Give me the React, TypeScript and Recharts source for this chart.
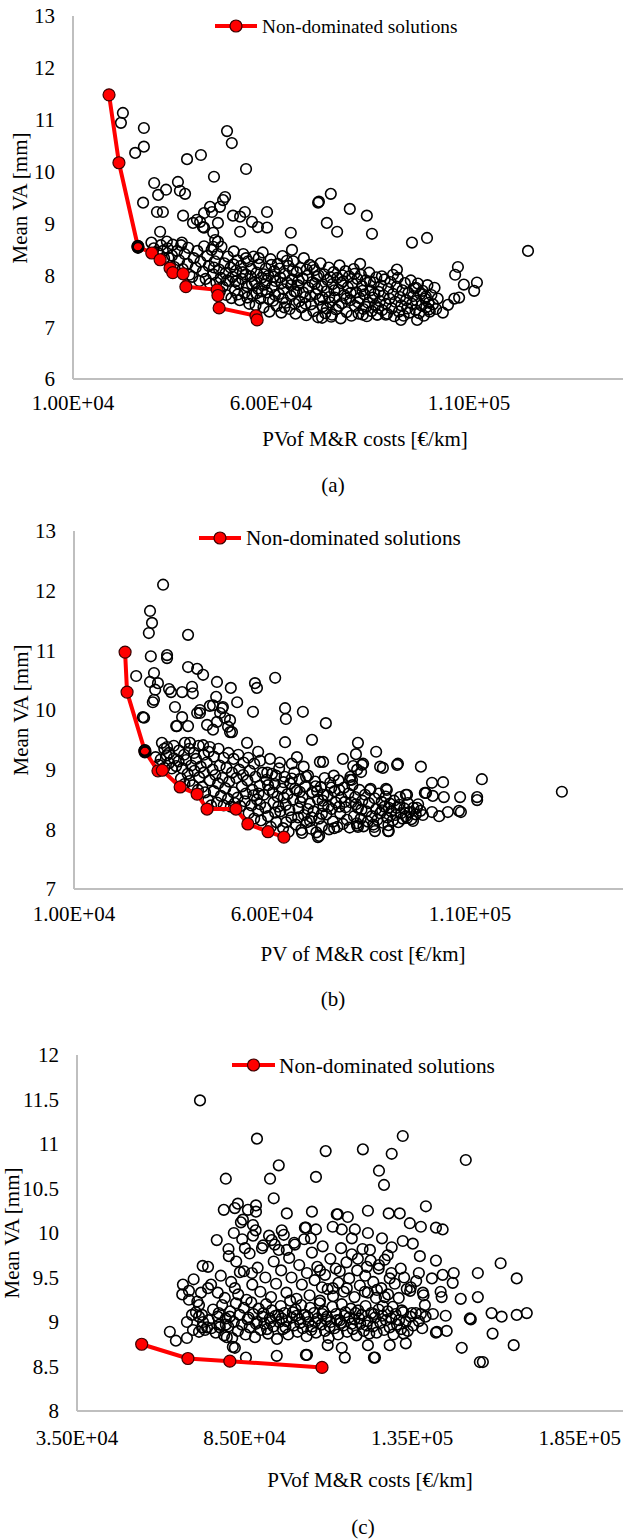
import { ScatterChart, Scatter, XAxis, YAxis } from "recharts";

const SERIF = '"Liberation Serif", "Times New Roman", serif';
const AXIS_GREY = "#bfbfbf";

type Row = [number, number];

// ---- panel (a) ----
const A_X_TICKS = [10000, 60000, 110000];
const A_Y_TICKS = [6, 7, 8, 9, 10, 11, 12, 13];

const A_FRONT: Row[] = [
  [19100, 11.48], [21600, 10.17], [26400, 8.55], [29900, 8.43], [32000, 8.3],
  [34500, 8.14], [35200, 8.05], [37800, 8.03], [38500, 7.78], [46400, 7.72],
  [46600, 7.61], [46900, 7.37], [56200, 7.22], [56500, 7.14],
];

const A_KNOT: Row[] = [[26300, 8.56], [26500, 8.54], [26400, 8.57], [26400, 8.53]];

const A_UPPER: Row[] = [
  [22600, 11.13], [22100, 10.94], [27900, 10.84], [27900, 10.48], [25700, 10.36],
  [48900, 10.78], [50100, 10.55], [42300, 10.32], [38800, 10.24], [53700, 10.05],
  [45600, 9.9], [30500, 9.78], [36500, 9.8], [33500, 9.65], [37000, 9.63],
  [38300, 9.57], [31500, 9.55], [48400, 9.51], [27700, 9.4], [71900, 9.4],
  [44600, 9.32], [47100, 9.32], [31200, 9.22], [32700, 9.22], [37800, 9.15],
  [43100, 9.2], [45100, 9.22], [50400, 9.15], [52200, 9.13], [53400, 9.22],
  [59000, 9.22], [40300, 9.01], [42100, 9.03], [46600, 9.01], [55200, 9.03],
  [56700, 8.93], [59000, 8.92], [43100, 8.92], [32000, 8.84], [52200, 8.84],
  [45400, 8.82], [65000, 8.82], [65300, 8.49], [46600, 8.65], [33700, 8.65],
  [35200, 8.59], [37500, 8.63], [42800, 8.93], [45900, 8.68], [41300, 9.07],
  [47900, 9.45], [45400, 8.55],
];

const A_RIGHT: Row[] = [
  [75100, 9.57], [72100, 9.42], [79900, 9.28], [84200, 9.15], [74100, 9.01],
  [76700, 8.84], [85500, 8.8], [95600, 8.63], [99400, 8.72], [124900, 8.47],
  [107200, 8.16], [106500, 8.01], [108700, 7.82], [112000, 7.86], [111300, 7.7],
  [107500, 7.57], [106300, 7.55], [104700, 7.43], [103400, 7.28], [99900, 7.34],
  [99100, 7.59], [96900, 7.14], [92800, 7.14], [96600, 7.76], [91800, 8.11],
  [90800, 8.01], [82500, 8.22], [89000, 7.24], [86800, 7.24], [72900, 7.18],
  [75400, 7.24], [83200, 7.24],
];

const A_CLOUD: Row[] = [
  [30400, 8.52], [31300, 8.44], [29800, 8.63], [32200, 8.58], [33000, 8.33], [32700, 8.47],
  [34100, 8.34], [33900, 8.52], [35000, 8.38], [35600, 8.16], [36300, 8.47], [36800, 8.29],
  [37300, 8.58], [37700, 8.12], [38200, 8.41], [38900, 8.22], [39400, 8.01], [39100, 8.53],
  [40100, 7.97], [40500, 8.33], [41000, 8.15], [41400, 8.47], [41900, 7.89], [42200, 8.26],
  [42800, 8.07], [43100, 8.56], [43500, 7.93], [43900, 8.37], [44300, 8.18], [44600, 7.84],
  [45000, 8.49], [45400, 8.02], [45800, 8.27], [46200, 7.86], [46500, 8.41], [46900, 8.11],
  [47300, 7.95], [47500, 8.55], [47800, 7.78], [48200, 8.23], [48500, 8.04], [48700, 7.62],
  [49100, 8.36], [49400, 7.89], [49800, 8.15], [50000, 7.56], [50300, 7.97], [50600, 8.46],
  [50900, 7.71], [51200, 8.09], [51500, 8.29], [51800, 7.84], [52100, 7.52], [52400, 8.18],
  [52700, 7.93], [53000, 8.41], [53300, 7.66], [53600, 8.02], [53900, 7.79], [54200, 8.27],
  [54500, 7.45], [54800, 7.98], [55000, 8.12], [55300, 7.61], [55600, 8.36], [55900, 7.87],
  [56100, 7.42], [56400, 8.05], [56700, 7.74], [57000, 8.21], [57300, 7.55], [57600, 7.95],
  [57900, 8.44], [58100, 7.38], [58400, 7.82], [58700, 8.13], [59000, 7.67], [59300, 7.99],
  [59600, 7.3], [59900, 8.31], [60200, 7.77], [60500, 7.51], [60800, 8.08], [61100, 7.89],
  [61400, 7.41], [61700, 8.22], [62000, 7.64], [62300, 7.96], [62600, 7.28], [62900, 8.37],
  [63200, 7.73], [63500, 8.03], [63800, 7.47], [64100, 7.86], [64400, 8.18], [64700, 7.35],
  [65000, 7.6], [65300, 7.92], [65600, 8.27], [65900, 7.69], [66200, 7.26], [66500, 8.06],
  [66800, 7.81], [67100, 7.5], [67400, 8.14], [67700, 7.38], [68000, 7.94], [68300, 8.33],
  [68600, 7.58], [68900, 7.23], [69200, 7.99], [69500, 7.76], [69800, 8.2], [70100, 7.44],
  [70400, 7.87], [70700, 7.31], [71000, 8.1], [71300, 7.64], [71600, 7.97], [71900, 7.19],
  [72200, 7.53], [72500, 8.23], [72800, 7.79], [73100, 7.4], [73400, 8.02], [73700, 7.27],
  [74000, 7.69], [74300, 7.91], [74600, 8.15], [74900, 7.48], [75200, 7.2], [75500, 7.83],
  [75800, 8.06], [76100, 7.57], [76400, 7.34], [76700, 7.95], [77000, 7.72], [77300, 8.19],
  [77600, 7.17], [77900, 7.46], [78200, 7.88], [78500, 7.62], [78800, 8.08], [79100, 7.29],
  [79400, 7.77], [79700, 7.98], [80000, 7.52], [80300, 7.22], [80600, 7.84], [80900, 8.12],
  [81200, 7.41], [81500, 7.67], [81800, 7.93], [82100, 7.26], [82400, 7.56], [82700, 8.01],
  [83000, 7.79], [83300, 7.35], [83600, 7.63], [83900, 7.9], [84200, 7.21], [84500, 7.47],
  [84800, 8.05], [85100, 7.71], [85400, 7.31], [85700, 7.57], [86000, 7.86], [86300, 7.42],
  [86600, 7.96], [86900, 7.24], [87200, 7.68], [87500, 7.5], [87800, 7.8], [88100, 7.33],
  [88400, 7.61], [88700, 7.92], [89000, 7.45], [89300, 7.26], [89600, 7.74], [89900, 7.55],
  [90200, 7.87], [90500, 7.36], [90800, 7.64], [91100, 7.21], [91400, 7.49], [91700, 7.78],
  [92000, 7.95], [92300, 7.3], [92600, 7.58], [92900, 7.42], [93200, 7.71], [93500, 7.22],
  [93800, 7.85], [94100, 7.52], [94400, 7.36], [94700, 7.66], [95000, 7.28], [95300, 7.9],
  [95600, 7.45], [95900, 7.6], [96200, 7.75], [96500, 7.33], [96800, 7.51], [97100, 7.84],
  [97400, 7.27], [97700, 7.64], [98000, 7.42], [98300, 7.7], [98600, 7.22], [98900, 7.55],
  [99200, 7.38], [99500, 7.81], [99800, 7.47], [100100, 7.3], [100500, 7.62], [100900, 7.44],
  [101300, 7.76], [101700, 7.35], [102100, 7.55],
];

const A_CORE: Row[] = [
  [45600, 8.15], [47100, 7.69], [48900, 7.9], [50500, 8.21], [51600, 7.63], [52900, 8.06],
  [54000, 7.57], [55200, 7.83], [56900, 8.33], [57700, 7.69], [58900, 7.9], [60100, 8.2],
  [61000, 7.62], [62200, 8.13], [63000, 7.55], [64000, 8.28], [65100, 7.81], [66000, 7.45],
  [67000, 7.9], [68100, 7.67], [69000, 8.11], [70000, 7.6], [71100, 7.84], [72000, 8.0],
  [73000, 7.57], [74100, 7.36], [75000, 7.96], [76000, 7.71], [77100, 7.41], [78000, 8.0],
  [79000, 7.55], [80100, 7.66], [81100, 8.03], [82000, 7.48], [83100, 7.7], [84000, 7.39],
  [85000, 7.88], [86100, 7.64], [87100, 7.37], [88000, 7.98], [51000, 7.88], [53700, 8.33],
  [56300, 7.65], [59500, 7.54], [62700, 7.85], [65500, 8.1], [68700, 7.45], [71700, 7.74],
  [74700, 7.58], [77700, 7.85], [60700, 7.97], [66400, 7.68], [70600, 8.16], [63400, 7.38],
  [58200, 8.02],
];

// ---- panel (b) ----
const B_X_TICKS = [10000, 60000, 110000];
const B_Y_TICKS = [7, 8, 9, 10, 11, 12, 13];

const B_FRONT: Row[] = [
  [22900, 10.97], [23400, 10.3], [27900, 9.31], [31200, 8.98], [32300, 8.99],
  [36800, 8.71], [41100, 8.59], [43600, 8.34], [50900, 8.34], [53900, 8.09],
  [59000, 7.96], [63000, 7.87],
];

const B_KNOT: Row[] = [[27800, 9.32], [28000, 9.3], [27900, 9.33], [27900, 9.29]];

const B_UPPER: Row[] = [
  [32500, 12.1], [29200, 11.66], [29700, 11.46], [28900, 11.29], [38800, 11.26],
  [29400, 10.9], [33500, 10.92], [33500, 10.87], [38800, 10.72], [41100, 10.69],
  [42600, 10.59], [25700, 10.57], [30200, 10.62], [29200, 10.47], [31200, 10.45],
  [46100, 10.47], [55700, 10.45], [56200, 10.37], [60800, 10.54], [30500, 10.34],
  [34000, 10.35], [34500, 10.3], [37300, 10.3], [39800, 10.39], [40000, 10.28],
  [49600, 10.37], [30200, 10.17], [35500, 10.05], [45900, 10.22], [51200, 10.13],
  [41800, 10.0], [47600, 10.05], [63300, 10.03], [67800, 9.97], [55200, 9.97],
  [27700, 9.87], [37300, 9.88], [36000, 9.73], [38800, 9.73], [41800, 9.95],
  [45100, 10.08], [47400, 10.03], [49400, 9.83], [63500, 9.85], [43600, 9.75],
  [45100, 9.67], [49400, 9.63], [46100, 9.8], [63300, 9.46], [70100, 9.5],
  [42600, 9.41], [44300, 9.38], [53700, 9.45], [56500, 9.3], [38000, 9.45],
  [39300, 9.45], [32200, 9.45], [33500, 9.38], [66300, 9.21], [72100, 9.13],
  [29900, 10.13], [44300, 10.07], [27400, 9.88], [41100, 9.95], [46900, 9.95],
  [48100, 9.87], [73600, 9.78], [35800, 9.73], [48900, 9.72], [49900, 9.63],
  [32800, 9.35], [34000, 9.28], [35200, 9.4], [36500, 9.32], [37800, 9.25],
  [39100, 9.35], [40300, 9.28], [41500, 9.4], [42800, 9.25], [44000, 9.3],
  [45300, 9.22], [46500, 9.35], [47800, 9.2], [49000, 9.28], [50300, 9.18],
  [51500, 9.25], [52800, 9.12], [54000, 9.2], [55500, 9.1], [57000, 9.15],
  [59500, 9.18], [62000, 9.12], [65000, 9.1], [68000, 9.05],
];

const B_RIGHT: Row[] = [
  [81700, 9.45], [86300, 9.3], [81200, 9.26], [77900, 9.18], [72900, 9.13],
  [83000, 9.1], [87300, 9.05], [88000, 9.03], [91800, 9.1], [97600, 9.05],
  [100400, 8.78], [98900, 8.61], [93800, 8.58], [88800, 8.68], [84700, 8.66],
  [81500, 9.0], [80200, 8.83], [86000, 7.97], [89500, 7.97], [81700, 8.04],
  [75700, 8.02], [71600, 7.87], [67600, 7.94], [80500, 9.06], [82700, 9.08],
  [82500, 8.96], [91600, 9.08], [103200, 8.79], [113000, 8.84], [111800, 8.54],
  [111800, 8.49], [107500, 8.54], [103400, 8.54], [100600, 8.56], [98600, 8.61],
  [133200, 8.63], [107700, 8.29], [107200, 8.31], [104400, 8.29], [102200, 8.22],
  [100400, 8.29], [98100, 8.24], [95600, 8.14], [94100, 8.19], [96600, 8.36],
  [92300, 8.54], [94100, 8.58], [89300, 7.97], [85800, 8.04], [81500, 8.06],
  [71900, 7.89], [89500, 8.36], [89000, 8.66], [79700, 8.83], [87800, 8.32],
];

const B_CLOUD: Row[] = [
  [30600, 9.21], [31400, 9.08], [31900, 9.17], [32800, 9.03], [33400, 9.24], [34000, 9.11],
  [34700, 9.02], [35200, 9.19], [35800, 9.06], [36400, 9.14], [37000, 8.85], [37400, 9.02],
  [37900, 8.76], [38300, 9.16], [38700, 8.93], [39200, 8.81], [39600, 9.07], [40000, 8.74],
  [40400, 8.98], [40800, 9.18], [41300, 8.66], [41600, 8.87], [42000, 9.05], [42400, 8.71],
  [42800, 8.95], [43100, 8.62], [43500, 9.12], [43900, 8.49], [44300, 8.82], [44600, 8.4],
  [45000, 9.0], [45300, 8.64], [45700, 8.91], [46100, 8.45], [46400, 8.77], [46800, 9.07],
  [47100, 8.56], [47500, 8.86], [47800, 8.4], [48200, 8.69], [48500, 9.03], [48900, 8.51],
  [49200, 8.8], [49600, 8.38], [49900, 8.95], [50300, 8.62], [50600, 8.44], [51000, 8.86],
  [51300, 8.53], [51700, 9.0], [52000, 8.39], [52400, 8.72], [52700, 8.91], [53100, 8.47],
  [53400, 8.6], [53800, 8.82], [54100, 8.27], [54400, 8.98], [54800, 8.4], [55100, 8.66],
  [55500, 8.18], [55800, 8.88], [56200, 8.5], [56500, 8.31], [56900, 8.73], [57200, 8.15],
  [57600, 8.95], [57900, 8.58], [58300, 8.36], [58600, 8.83], [59000, 8.22], [59300, 8.66],
  [59700, 8.04], [60000, 8.93], [60400, 8.45], [60700, 8.76], [61100, 8.12], [61400, 8.55],
  [61800, 9.02], [62100, 8.3], [62500, 8.68], [62800, 8.02], [63200, 8.88], [63500, 8.41],
  [63900, 8.59], [64200, 7.96], [64600, 8.77], [64900, 8.2], [65300, 8.5], [65600, 8.95],
  [66000, 8.08], [66300, 8.65], [66700, 8.35], [67000, 8.84], [67400, 7.99], [67700, 8.54],
  [68100, 8.24], [68400, 8.72], [68800, 8.12], [69100, 8.9], [69500, 8.43], [69800, 8.01],
  [70200, 8.62], [70500, 8.3], [70900, 8.8], [71200, 7.95], [71600, 8.5], [71900, 8.18],
  [72300, 8.71], [72600, 8.05], [73000, 8.39], [73300, 8.86], [73700, 8.25], [74000, 8.57],
  [74400, 8.0], [74700, 8.78], [75100, 8.34], [75400, 8.13], [75800, 8.64], [76100, 8.45],
  [76500, 8.04], [76800, 8.82], [77200, 8.27], [77500, 8.53], [77900, 8.09], [78200, 8.7],
  [78600, 8.37], [78900, 8.16], [79300, 8.6], [79600, 8.03], [80000, 8.45], [80300, 8.74],
  [80700, 8.22], [81000, 8.54], [81400, 8.1], [81700, 8.36], [82100, 8.66], [82400, 8.18],
  [82800, 8.48], [83100, 8.05], [83500, 8.58], [83800, 8.3], [84200, 8.13], [84500, 8.44],
  [84900, 8.68], [85200, 8.22], [85600, 8.08], [85900, 8.52], [86300, 8.34], [86600, 8.16],
  [87000, 8.6], [87300, 8.27], [87700, 8.46], [88000, 8.11], [88400, 8.38], [88700, 8.55],
  [89100, 8.2], [89400, 8.07], [89800, 8.43], [90100, 8.3], [90500, 8.15], [90800, 8.48],
  [91200, 8.24], [91500, 8.36], [91900, 8.12], [92200, 8.41], [92600, 8.27], [93000, 8.18],
  [93400, 8.35], [93800, 8.22], [94300, 8.44], [94700, 8.29], [95200, 8.17], [95700, 8.36],
  [96300, 8.25], [96900, 8.42], [97500, 8.31],
];

const B_CORE: Row[] = [
  [55300, 8.57], [57000, 8.42], [58800, 8.95], [60200, 8.62], [61600, 8.38], [62900, 8.79],
  [64400, 8.32], [65800, 8.68], [67200, 8.46], [68600, 8.88], [70000, 8.2], [71400, 8.64],
  [72800, 8.48], [74200, 8.38], [75600, 8.9], [77000, 8.66], [78400, 8.46], [79800, 8.88],
  [81200, 8.42], [82600, 8.33], [59000, 8.74], [61000, 8.9], [63000, 8.53], [65000, 8.85],
  [67000, 8.63], [69000, 8.34], [71000, 8.72], [73000, 8.58], [75000, 8.7], [77000, 8.38],
  [63600, 8.12], [66600, 8.2], [69600, 8.14], [72600, 8.26], [56600, 8.6], [60800, 8.28],
];

// ---- panel (c) ----
const C_X_TICKS = [35000, 85000, 135000, 185000];
const C_Y_TICKS = [8, 8.5, 9, 9.5, 10, 10.5, 11, 11.5, 12];

const C_FRONT: Row[] = [[54300, 8.75], [68100, 8.59], [80600, 8.56], [108100, 8.49]];

const C_UPPER: Row[] = [
  [71700, 11.49], [88700, 11.06], [95200, 10.76], [79400, 10.61], [92600, 10.61],
  [93700, 10.39], [106300, 10.63], [78800, 10.26], [82100, 10.28], [83000, 10.33],
  [86000, 10.26], [88400, 10.31], [88400, 10.24], [84500, 10.15], [83900, 10.12],
  [97600, 10.22], [105100, 10.24], [87500, 10.09], [132200, 11.09], [109200, 10.92],
  [120300, 10.94], [128900, 10.89], [151000, 10.82], [125100, 10.7], [126600, 10.54],
  [139100, 10.3], [112800, 10.21], [115800, 10.18], [121800, 10.25], [128000, 10.22],
  [131300, 10.22], [134300, 10.11], [137600, 10.07], [142100, 10.06], [144100, 10.04],
  [103300, 10.06], [106300, 10.04], [111300, 10.07], [114000, 10.04], [117900, 10.04],
  [121800, 10.0], [126000, 9.94], [104800, 9.94], [117000, 9.94], [132200, 9.91],
  [135200, 9.88], [128900, 9.84], [127700, 9.75], [122400, 9.81], [137300, 9.74],
  [142100, 9.69], [161400, 9.66], [166200, 9.49], [154600, 9.55], [147400, 9.55],
  [144100, 9.53], [140900, 9.49], [137000, 9.55], [131600, 9.6], [125100, 9.64],
  [118800, 9.71], [121500, 9.62], [113400, 9.57], [107500, 9.58], [128300, 9.49],
  [133400, 9.37], [134600, 9.39], [138200, 9.33], [143800, 9.28], [147100, 9.44],
  [149500, 9.26], [154600, 9.28], [143500, 9.34], [138800, 9.19], [126800, 9.28],
  [124500, 9.36], [120900, 9.34], [115500, 9.38], [111300, 9.38], [108100, 9.39],
];

const C_SIDES: Row[] = [
  [158700, 9.1], [161700, 9.06], [166200, 9.08], [169200, 9.1], [152500, 9.03],
  [145000, 9.07], [141200, 9.09], [137600, 9.09], [134900, 9.1], [131900, 9.13],
  [129200, 9.17], [126200, 9.18], [142400, 8.89], [145300, 8.9], [159000, 8.87],
  [165300, 8.74], [149800, 8.71], [156100, 8.55], [133100, 8.76], [128300, 8.74],
  [132500, 8.87], [123900, 8.6], [114900, 8.6], [103300, 8.63], [121800, 8.74],
  [114000, 8.71], [109800, 8.74], [76700, 9.92], [81800, 10.0], [80300, 9.74],
  [74100, 9.62], [66600, 9.42], [68400, 9.35], [72000, 9.33], [75000, 9.42],
  [77000, 9.33], [62700, 8.89], [64500, 8.79], [67800, 8.82], [67800, 9.0],
  [68400, 9.25], [71400, 9.19], [70500, 9.11], [72300, 9.08], [72600, 9.0],
  [73200, 8.91], [69600, 8.91], [73800, 8.94], [71400, 8.89], [82100, 8.71],
  [85400, 8.6], [94600, 8.62], [103600, 8.63], [123600, 8.6], [79700, 8.83],
  [79400, 8.97], [77300, 9.1], [80600, 9.06], [82100, 9.38], [83600, 9.56],
  [87200, 9.55], [85100, 9.83], [90200, 9.83], [87500, 9.97], [93100, 9.92],
  [96100, 10.03], [94000, 9.87], [97600, 9.81], [100000, 9.87], [103000, 10.06],
  [112500, 10.21], [152200, 9.04], [155200, 8.55], [142100, 8.88], [81500, 8.72],
  [77600, 8.94], [69300, 9.08], [72300, 8.94], [71400, 9.06],
];

const C_BAND: Row[] = [
  [74300, 9.02], [75100, 8.93], [75600, 9.14], [76400, 8.88], [77000, 9.06], [77500, 8.97],
  [78300, 9.19], [78900, 8.85], [79400, 9.04], [80100, 8.95], [80700, 9.12], [81300, 8.82],
  [81800, 9.0], [82400, 9.21], [83000, 8.9], [83500, 9.08], [84200, 8.97], [84800, 9.16],
  [85300, 8.86], [85900, 9.03], [86500, 8.94], [87000, 9.22], [87600, 9.09], [88100, 8.83],
  [88700, 9.0], [89200, 9.15], [89800, 8.91], [90300, 9.06], [90900, 8.98], [91400, 9.2],
  [92000, 8.87], [92500, 9.04], [93100, 9.13], [93600, 8.95], [94200, 9.07], [94700, 8.81],
  [95300, 9.0], [95800, 9.18], [96400, 8.92], [96900, 9.1], [97500, 9.01], [98000, 8.86],
  [98600, 9.24], [99100, 9.05], [99700, 8.96], [100200, 9.14], [100800, 8.89], [101300, 9.03],
  [101900, 9.19], [102400, 8.93], [103000, 9.08], [103500, 8.84], [104100, 9.0], [104600, 9.16],
  [105200, 8.95], [105700, 9.1], [106300, 8.88], [106800, 9.04], [107400, 9.21], [107900, 8.97],
  [108500, 9.12], [109000, 8.9], [109600, 9.06], [110100, 8.82], [110700, 9.0], [111200, 9.17],
  [111800, 8.93], [112300, 9.09], [112900, 8.86], [113400, 9.02], [114000, 9.2], [114500, 8.96],
  [115100, 9.11], [115600, 8.89], [116200, 9.05], [116700, 9.15], [117300, 8.92], [117800, 9.03],
  [118400, 8.85], [118900, 9.13], [119500, 8.98], [120000, 9.08], [120600, 8.9], [121100, 9.18],
  [121700, 9.01], [122200, 8.87], [122800, 9.1], [123300, 8.95], [123900, 9.05], [124400, 8.88],
  [125000, 9.14], [125500, 8.99], [126100, 9.07], [126600, 8.91], [127200, 9.02], [127700, 9.12],
  [128300, 8.94], [128800, 9.04], [129400, 8.86], [130000, 9.09], [130500, 8.97], [131100, 9.02],
  [131700, 8.92], [132300, 9.11], [133000, 9.0], [133700, 8.9], [134500, 9.06], [135300, 8.96],
  [136100, 9.1], [137000, 9.01], [138000, 8.93], [139000, 9.06],
  [86200, 9.05], [88400, 8.98], [90600, 9.1], [92800, 9.0], [95000, 9.08], [97200, 8.94],
  [99400, 9.11], [101600, 8.99], [103800, 9.06], [106000, 9.0], [108200, 9.09], [110400, 8.95],
  [112600, 9.02], [114800, 9.07], [117000, 8.98], [119200, 9.04], [121400, 8.96], [123600, 9.09],
  [91700, 8.92], [96100, 9.04], [100500, 9.07], [104900, 8.91], [109300, 9.03], [113700, 8.99],
  [118100, 9.1],
];

const C_MID: Row[] = [
  [66400, 9.31], [69800, 9.48], [70900, 9.23], [72500, 9.63], [74100, 9.38], [77900, 9.52],
  [79100, 9.27], [80200, 9.82], [81000, 9.45], [82500, 9.68], [83100, 9.31], [84300, 9.93],
  [84800, 9.57], [85600, 9.25], [86500, 9.77], [87300, 9.42], [88300, 10.03], [88900, 9.61],
  [89700, 9.34], [90500, 9.86], [91200, 9.5], [92300, 9.97], [92900, 9.28], [93700, 9.68],
  [94400, 9.43], [95200, 9.81], [95900, 9.58], [96700, 9.98], [97500, 9.33], [98300, 9.72],
  [99000, 9.5], [99800, 9.89], [100500, 9.26], [101300, 9.64], [102100, 9.42], [102800, 9.93],
  [103600, 9.55], [104400, 9.3], [105100, 9.78], [105900, 9.47], [106700, 9.62], [107500, 9.24],
  [108300, 9.85], [109000, 9.53], [109800, 9.37], [110600, 9.71], [111400, 9.29], [112200, 9.6],
  [113000, 9.44], [113800, 9.83], [114600, 9.34], [115400, 9.67], [116200, 9.49], [117000, 9.76],
  [117800, 9.28], [118600, 9.58], [119400, 9.41], [120200, 9.82], [121000, 9.52], [121800, 9.33],
  [122600, 9.69], [123400, 9.45], [124200, 9.27], [125000, 9.6], [125800, 9.38], [126800, 9.7],
  [127800, 9.31], [128800, 9.55], [129800, 9.43], [131000, 9.27], [132600, 9.5], [134400, 9.35],
  [136200, 9.46], [138400, 9.3],
];

const sci = (v: number) => {
  const [m, e] = v.toExponential(2).split("e");
  const sign = e.startsWith("-") ? "-" : "+";
  return `${m}E${sign}${e.replace(/[+-]/, "").padStart(2, "0")}`;
};

const pts = (rows: Row[]) => rows.map(([x, y]) => ({ x, y }));

const OpenDot = (p: any) =>
  p.cx == null ? null : (
    <circle cx={p.cx} cy={p.cy} r={5.3} fill="none" stroke="#000" strokeWidth={1.6} />
  );

const RedDot = (p: any) =>
  p.cx == null ? null : (
    <circle cx={p.cx} cy={p.cy} r={6} fill="#ff0000" stroke="#3a0000" strokeWidth={1.2} />
  );

type PanelProps = {
  top: number;
  left: number;
  width: number;
  plotHeight: number;
  xDomain: [number, number];
  xTicks: number[];
  yDomain: [number, number];
  yTicks: number[];
  xTickMargin: number;
  clouds: Row[][];
  front: Row[];
  knot?: Row[];
};

function Panel(props: PanelProps) {
  const tick = { fill: "#000", fontSize: 21, fontFamily: SERIF };
  return (
    <div style={{ position: "absolute", left: 0, top: props.top, fontFamily: SERIF }}>
      <ScatterChart
        width={props.width}
        height={16 + props.plotHeight + 40}
        margin={{ top: 16, right: 5, bottom: 0, left: props.left }}
        style={{ fontFamily: SERIF }}
      >
        <XAxis
          type="number"
          dataKey="x"
          domain={props.xDomain}
          ticks={props.xTicks}
          interval={0}
          tickFormatter={sci}
          tick={tick}
          tickLine={false}
          tickSize={0}
          tickMargin={props.xTickMargin}
          axisLine={{ stroke: AXIS_GREY, strokeWidth: 2 }}
          height={40}
          allowDataOverflow
        />
        <YAxis
          type="number"
          dataKey="y"
          domain={props.yDomain}
          ticks={props.yTicks}
          interval={0}
          tick={tick}
          tickLine={false}
          tickSize={0}
          tickMargin={18}
          axisLine={{ stroke: AXIS_GREY, strokeWidth: 2 }}
          width={60}
          allowDataOverflow
        />
        {props.clouds.map((rows, i) => (
          <Scatter key={i} data={pts(rows)} shape={OpenDot} isAnimationActive={false} />
        ))}
        <Scatter
          data={pts(props.front)}
          line={{ stroke: "#ff0000", strokeWidth: 4 }}
          shape={RedDot}
          isAnimationActive={false}
        />
        {props.knot && <Scatter data={pts(props.knot)} shape={OpenDot} isAnimationActive={false} />}
      </ScatterChart>
    </div>
  );
}

function LegendItem({ x1, x2, y, textX, base, size }: any) {
  return (
    <g>
      <line x1={x1} x2={x2} y1={y} y2={y} stroke="#ff0000" strokeWidth={4} />
      <circle cx={(x1 + x2) / 2} cy={y} r={6} fill="#ff0000" stroke="#3a0000" strokeWidth={1.2} />
      <text x={textX} y={base} fontSize={size} fontFamily={SERIF} fill="#000">
        Non-dominated solutions
      </text>
    </g>
  );
}

export default function App() {
  const txt = { fontFamily: SERIF, fontSize: 21, fill: "#000" };
  return (
    <div
      style={{
        position: "absolute",
        left: 0,
        top: 0,
        width: 623,
        height: 1540,
        overflow: "hidden",
        background: "#fff",
      }}
    >
      <Panel
        top={0}
        left={13}
        width={672}
        plotHeight={363}
        xDomain={[10000, 160000]}
        xTicks={A_X_TICKS}
        yDomain={[6, 13]}
        yTicks={A_Y_TICKS}
        xTickMargin={16}
        clouds={[A_UPPER, A_RIGHT, A_CLOUD, A_CORE]}
        front={A_FRONT}
        knot={A_KNOT}
      />
      <Panel
        top={515}
        left={14}
        width={673}
        plotHeight={358}
        xDomain={[10000, 160000]}
        xTicks={B_X_TICKS}
        yDomain={[7, 13]}
        yTicks={B_Y_TICKS}
        xTickMargin={17}
        clouds={[B_UPPER, B_RIGHT, B_CLOUD, B_CORE]}
        front={B_FRONT}
        knot={B_KNOT}
      />
      <Panel
        top={1039}
        left={17}
        width={635}
        plotHeight={356}
        xDomain={[35000, 200000]}
        xTicks={C_X_TICKS}
        yDomain={[8, 12]}
        yTicks={C_Y_TICKS}
        xTickMargin={19}
        clouds={[C_UPPER, C_SIDES, C_MID, C_BAND]}
        front={C_FRONT}
      />
      <svg
        width={623}
        height={1540}
        style={{ position: "absolute", left: 0, top: 0, pointerEvents: "none" }}
      >
        <LegendItem x1={215} x2={257} y={26} textX={262} base={33} size={19.3} />
        <LegendItem x1={199} x2={241} y={538} textX={246} base={545} size={21.2} />
        <LegendItem x1={232} x2={275} y={1065} textX={279} base={1073} size={21.3} />

        <text {...txt} transform="translate(27,198) rotate(-90)" textAnchor="middle">Mean VA [mm]</text>
        <text {...txt} transform="translate(28,710) rotate(-90)" textAnchor="middle">Mean VA [mm]</text>
        <text {...txt} transform="translate(19,1233) rotate(-90)" textAnchor="middle">Mean VA [mm]</text>

        <text {...txt} x={365} y={446} textAnchor="middle">PVof M&amp;R costs [€/km]</text>
        <text {...txt} x={363} y={961} textAnchor="middle">PV of M&amp;R cost [€/km]</text>
        <text {...txt} x={370} y={1487} textAnchor="middle">PVof M&amp;R costs [€/km]</text>

        <text {...txt} x={333} y={492} textAnchor="middle">(a)</text>
        <text {...txt} x={333} y={1006} textAnchor="middle">(b)</text>
        <text {...txt} x={363} y={1534} textAnchor="middle">(c)</text>
      </svg>
    </div>
  );
}
